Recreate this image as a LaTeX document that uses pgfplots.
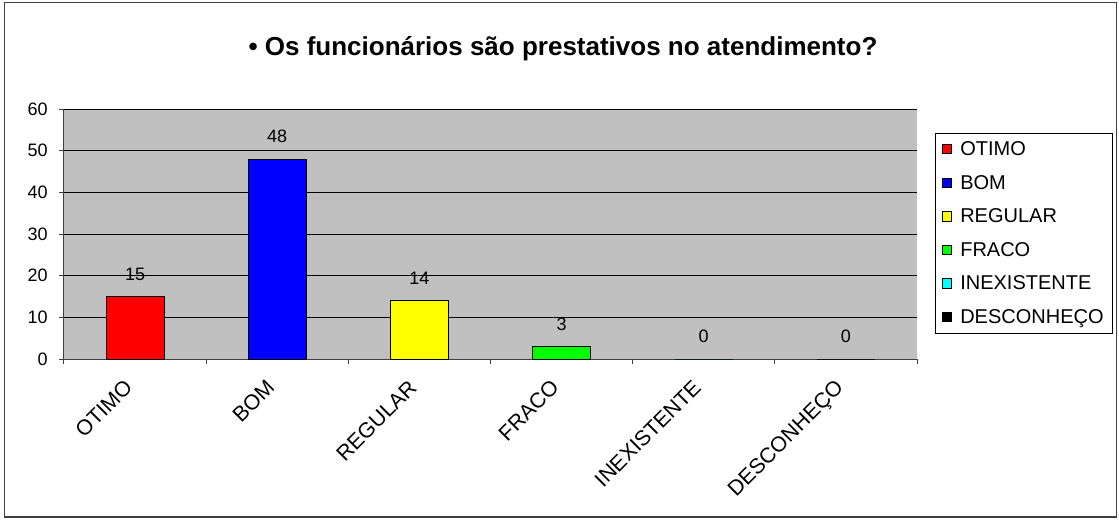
\documentclass[border=0pt]{standalone}
\usepackage{fontspec}
\setmainfont{Liberation Sans}
\usepackage{pgfplots}
\pgfplotsset{compat=1.18}
\definecolor{plotgray}{HTML}{C0C0C0}
\definecolor{cyanc}{HTML}{00FFFF}
\definecolor{greenc}{HTML}{00FF00}
\definecolor{yellowc}{HTML}{FFFF00}
\begin{document}
\begin{tikzpicture}
\begin{axis}[
  name=ax,
  clip=false,
  /pgf/number format/assume math mode=true,
  scale only axis, width=639.75pt, height=187.5pt,
  xmin=-0.5, xmax=5.5, ymin=0, ymax=60,
  ytick={0,10,...,60},
  xtick={0,...,5},
  xticklabels={OTIMO,BOM,REGULAR,FRACO,INEXISTENTE,DESCONHEÇO},
  major x tick style={draw=none},
  minor xtick={-0.5,0.5,...,5.5},
  tick align=outside, tick pos=left,
  major tick length=3.75pt, minor tick length=3.75pt,
  axis x line*=bottom, axis y line*=left,
  axis line style={black!75, line width=0.75pt},
  every tick/.style={black!75, line width=0.75pt},
  ymajorgrids, grid style={black, line width=0.75pt},
  axis background/.style={fill=plotgray},
  ybar, bar width=43.5pt, bar shift=0pt,
  nodes near coords,
  every node near coord/.append style={font=\fontsize{13.5}{16}\selectfont, black, yshift=8.5pt},
  yticklabel style={font=\fontsize{13.5}{16}\selectfont, xshift=-5pt},
  xticklabel style={font=\fontsize{16}{19}\selectfont, xshift=-9pt, yshift=-6pt, rotate=45, anchor=north east},
  legend style={at={(1.0211,0.904)}, anchor=north west, draw=black, line width=0.75pt,
    fill=white, font=\fontsize{15}{18}\selectfont, row sep=9.2pt, inner xsep=4.5pt, inner ysep=4pt,
    cells={anchor=west}},
  legend image code/.code={\draw[#1,draw=black,line width=0.6pt] (0pt,-3.3pt) rectangle (7pt,3.7pt);},
]
\addplot[fill=red, draw=black, line width=0.75pt] coordinates {(0,15)};
\addplot[fill=blue, draw=black, line width=0.75pt] coordinates {(1,48)};
\addplot[fill=yellowc, draw=black, line width=0.75pt] coordinates {(2,14)};
\addplot[fill=greenc, draw=black, line width=0.75pt] coordinates {(3,3)};
\addplot[fill=cyanc, draw=black, line width=0.75pt] coordinates {(4,0)};
\addplot[fill=black, draw=black, line width=0.75pt] coordinates {(5,0)};
\legend{\hspace{4.5pt}OTIMO,\hspace{4.5pt}BOM,\hspace{4.5pt}REGULAR,\hspace{4.5pt}FRACO,\hspace{4.5pt}INEXISTENTE,\hspace{4.5pt}DESCONHEÇO}
\coordinate (pgSW) at (rel axis cs:-0.075029,-0.64);
\coordinate (pgNE) at (rel axis cs:1.236811,1.436);
\end{axis}
\pgfresetboundingbox
\path[use as bounding box] (pgSW) rectangle (pgNE);
\begin{scope}[shift={(pgSW)}, x=1pt, y=1pt]
\draw[line width=0.9pt, black!75] (3.5,1.5) rectangle (837.5,387.5);
\node[font=\bfseries\fontsize{19.5}{23}\selectfont] at (422.25,353) {• Os funcionários são prestativos no atendimento?};
\end{scope}
\end{tikzpicture}
\end{document}
